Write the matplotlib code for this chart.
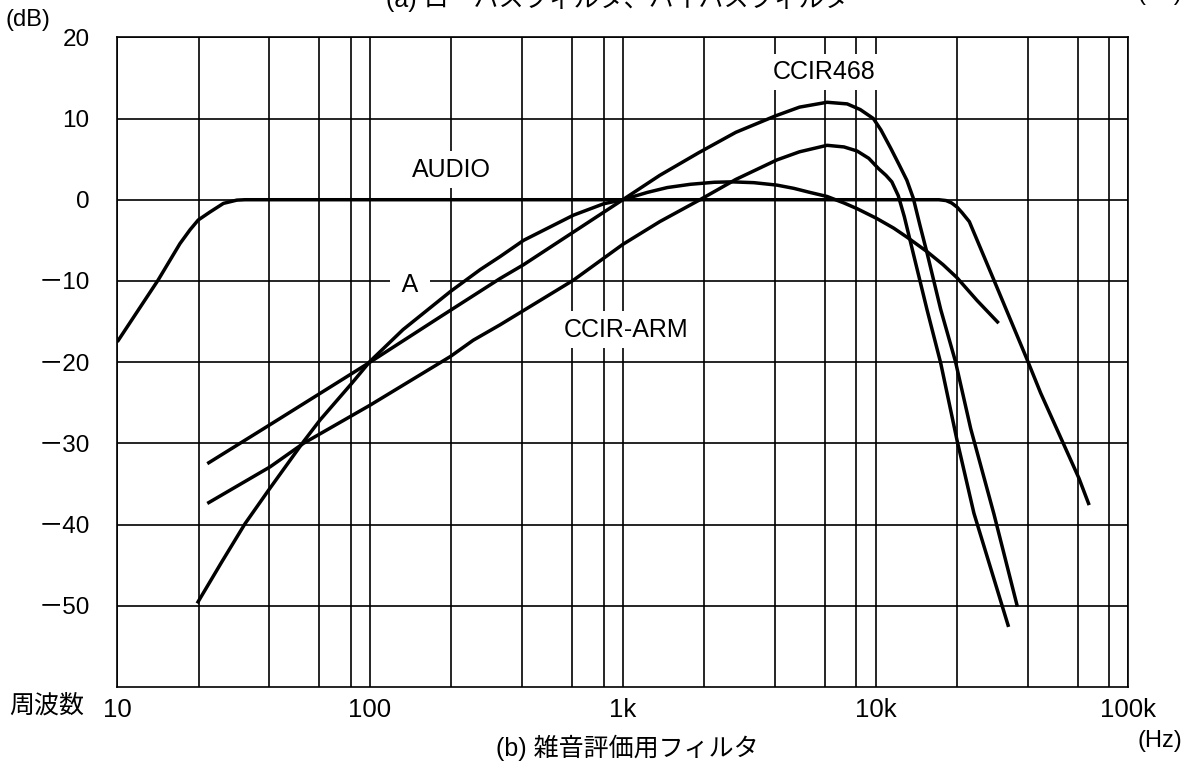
import matplotlib
matplotlib.use("Agg")
import matplotlib.pyplot as plt
from matplotlib.ticker import FixedLocator, NullFormatter

plt.rcParams['font.family'] = ['Liberation Sans', 'Noto Sans CJK JP']

# Weighting / band filter responses: frequency (Hz) and gain (dB)
audio_f = [10, 14.5, 17.7, 19.4, 20.9, 23.3, 26.3, 29.7, 32,
           17800, 19000, 20000, 21000, 22000, 23500, 29400, 39800, 45000, 63800, 70000]
audio_db = [-17.5, -9.9, -5.4, -3.7, -2.5, -1.5, -0.45, -0.05, 0,
            0, -0.1, -0.4, -0.9, -1.6, -2.7, -9.9, -19.7, -23.8, -34.3, -37.6]

a_f = [20.7, 25.9, 32, 39.6, 54.5, 63.5, 84.7, 100, 135, 208, 273, 327, 405,
       638, 840, 1000, 1250, 1500, 1850, 2300, 2700, 3300, 4070, 4750, 5500,
       6430, 7500, 8450, 10100, 11800, 13300, 16000, 18500, 21000, 25200, 30700]
a_db = [-49.7, -44.6, -39.9, -35.8, -29.8, -27.1, -22.6, -19.9, -16.0, -11.3,
        -8.6, -7.0, -5.0, -1.9, -0.5, 0, 0.9, 1.5, 1.9, 2.15, 2.2, 2.1, 1.8,
        1.4, 0.9, 0.4, -0.4, -1.1, -2.3, -3.5, -4.6, -6.4, -8.0, -9.6, -12.4, -15.2]

ccir468_f = [22.7, 40.2, 100, 190, 327, 405, 1000, 1400, 2000, 2800, 4000,
             5000, 6430, 7720, 8700, 9800, 10500, 11500, 12400, 13300, 14100,
             15000, 16000, 18100, 20700, 23800, 29400, 36400]
ccir468_db = [-32.5, -27.7, -20.0, -14.4, -9.7, -8.0, 0, 3.0, 5.8, 8.3, 10.3,
              11.4, 12.0, 11.8, 11.1, 10.0, 8.6, 6.3, 4.3, 2.4, 0.2,
              -3.2, -6.6, -13.5, -19.9, -28.2, -38.7, -50.1]

arm_f = [22.7, 40.2, 54.5, 100, 208, 256, 327, 638, 1000, 1400, 2020, 2800,
         4070, 5000, 6430, 7500, 8450, 9400, 10300, 11000, 11600, 12300, 13000,
         14200, 16000, 18100, 21000, 24500, 33600]
arm_db = [-37.4, -32.9, -30.0, -25.3, -19.3, -17.3, -15.4, -9.9, -5.5, -2.7, 0,
          2.5, 4.9, 5.9, 6.7, 6.5, 6.0, 5.1, 3.8, 3.0, 2.2, 0.5, -2.1,
          -7.0, -13.6, -20.1, -29.6, -38.6, -52.6]

x_ticks = [10, 100, 1000, 10000, 100000]
x_labels = ['10', '100', '1k', '10k', '100k']
y_ticks = [20, 10, 0, -10, -20, -30, -40, -50]
y_labels = ['20', '10', '0', '－10', '－20', '－30', '－40', '－50']
grid_steps = [2.1, 4, 6.3, 8.4]

W, H = 1185, 767
fig = plt.figure(figsize=(W / 100, H / 100), dpi=100)
left, right, top, bottom = 117.3, 1128.3, 37.3, 687.0
ax = fig.add_axes([left / W, 1 - bottom / H, (right - left) / W, (bottom - top) / H])

ax.set_xscale('log')
ax.set_xlim(10, 100000)
ax.set_ylim(-60, 20)

ax.set_xticks(x_ticks)
ax.set_xticklabels(x_labels)
ax.xaxis.set_minor_locator(FixedLocator([m * 10 ** k for k in range(1, 5) for m in grid_steps]))
ax.xaxis.set_minor_formatter(NullFormatter())
ax.set_yticks(y_ticks)
ax.set_yticklabels(y_labels)

ax.tick_params(axis='both', which='both', length=0)
ax.tick_params(axis='x', labelsize=18.5, pad=8)
ax.tick_params(axis='y', labelsize=17.5, pad=20)

grid_kw = dict(color='black', linewidth=1.2)
ax.grid(True, which='major', axis='both', **grid_kw)
ax.grid(True, which='minor', axis='x', **grid_kw)
for s in ax.spines.values():
    s.set_linewidth(1.2)
    s.set_color('black')

curve_kw = dict(color='black', linewidth=2.5, solid_capstyle='butt', solid_joinstyle='round')
ax.plot(audio_f, audio_db, **curve_kw)
ax.plot(a_f, a_db, **curve_kw)
ax.plot(ccir468_f, ccir468_db, **curve_kw)
ax.plot(arm_f, arm_db, **curve_kw)

box = dict(boxstyle='square,pad=0.25', fc='white', ec='none')
label_kw = dict(fontsize=18, ha='center', va='center', bbox=box, zorder=5)
ax.text(210, 3.7, 'AUDIO', **label_kw)
ax.text(144, -10.5, ' A ', **label_kw)
ax.text(1032, -16.0, 'CCIR-ARM', **label_kw)
ax.text(6283, 15.7, 'CCIR468', **label_kw)

fig.text(28 / W, 1 - 20 / H, '(dB)', fontsize=17, ha='center', va='center')
fig.text(47 / W, 1 - 706 / H, '周波数', fontsize=18, ha='center', va='center')
fig.text(627 / W, 1 - 748 / H, '(b) 雑音評価用フィルタ', fontsize=18, ha='center', va='center')
fig.text(1160 / W, 1 - 741 / H, '(Hz)', fontsize=17, ha='center', va='center')
fig.text(617 / W, 1 + 1 / H, '(a) ローパスフィルタ、ハイパスフィルタ', fontsize=18, ha='center', va='center')
fig.text(1160 / W, 1 + 6 / H, '(Hz)', fontsize=17, ha='center', va='center')

fig.savefig('out.png', dpi=100, facecolor='white')
